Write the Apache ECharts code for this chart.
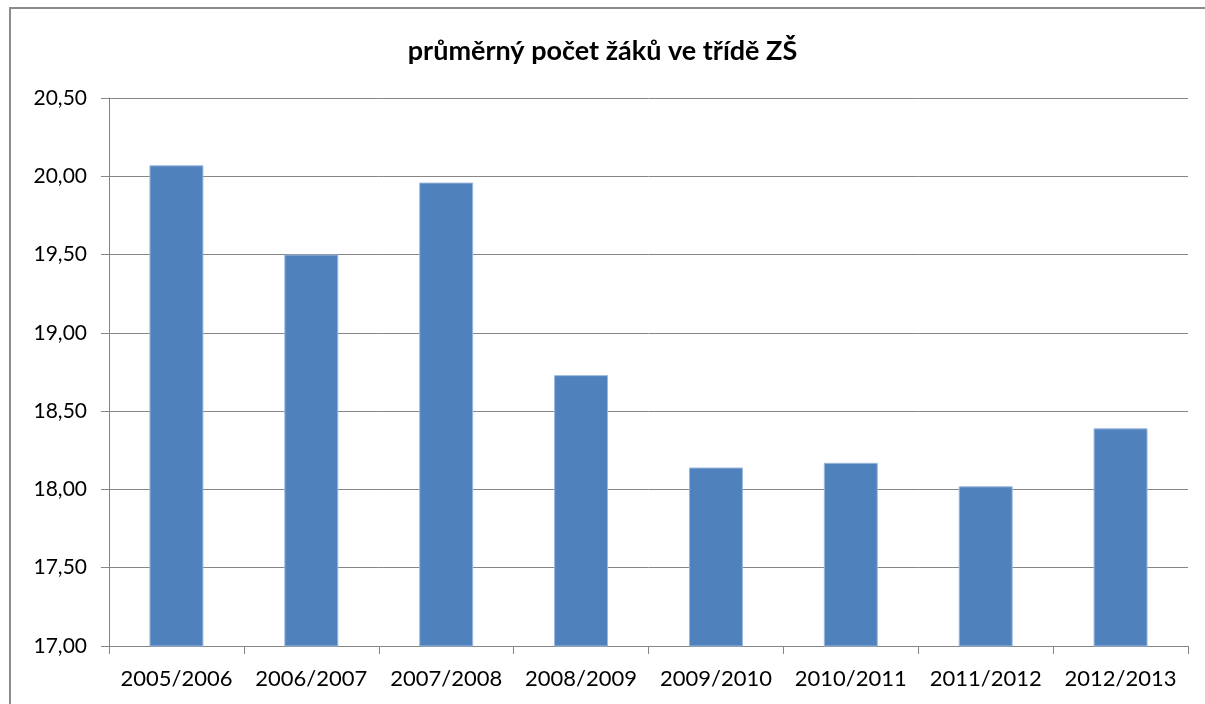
<!DOCTYPE html>
<html>
<head>
<meta charset="utf-8">
<script src="https://cdn.jsdelivr.net/npm/echarts@6/dist/echarts.min.js"></script>
<style>
html,body{margin:0;padding:0;background:#fff;}
#main{width:1205px;height:704px;}
</style>
</head>
<body>
<div id="main"></div>
<script>
// data
var years = ['2005/2006','2006/2007','2007/2008','2008/2009','2009/2010','2010/2011','2011/2012','2012/2013'];
var avgPupils = [20.07, 19.50, 19.96, 18.73, 18.14, 18.17, 18.02, 18.39];
var chartTitle = 'průměrný počet žáků ve třídě ZŠ';

var myChart = echarts.init(document.getElementById('main'));
var font = 'Lato, "Open Sans", sans-serif';
var grey = '#868686';

var option = {
    animation: false,
    title: {
        text: chartTitle,
        left: 'center',
        top: 33,
        textStyle: {fontFamily: font, fontSize: 27, fontWeight: 'bold', color: '#000'}
    },
    graphic: [{
        type: 'rect',
        shape: {x: 10, y: 8, width: 1400, height: 900},
        style: {fill: 'none', stroke: '#8c8c8c', lineWidth: 2}
    }],
    grid: {left: 109, right: 17, top: 98, bottom: 58},
    xAxis: {
        type: 'category',
        data: years,
        axisLine: {lineStyle: {color: grey}},
        axisTick: {show: true, length: 8, interval: 0, lineStyle: {color: grey}},
        axisLabel: {fontFamily: font, fontSize: 22, color: '#000', margin: 22, interval: 0}
    },
    yAxis: {
        type: 'value',
        min: 17,
        max: 20.5,
        interval: 0.5,
        axisLine: {show: true, lineStyle: {color: grey}},
        axisTick: {show: true, length: 8, lineStyle: {color: grey}},
        splitLine: {lineStyle: {color: grey}},
        axisLabel: {
            fontFamily: font, fontSize: 21, color: '#000', margin: 22,
            formatter: function (v) { return v.toFixed(2).replace('.', ','); }
        }
    },
    series: [{
        type: 'bar',
        data: avgPupils,
        barCategoryGap: '60%',
        itemStyle: {color: '#4f81bd', borderColor: '#9bb8dd', borderWidth: 1}
    }]
};

myChart.setOption(option);
</script>
</body>
</html>
